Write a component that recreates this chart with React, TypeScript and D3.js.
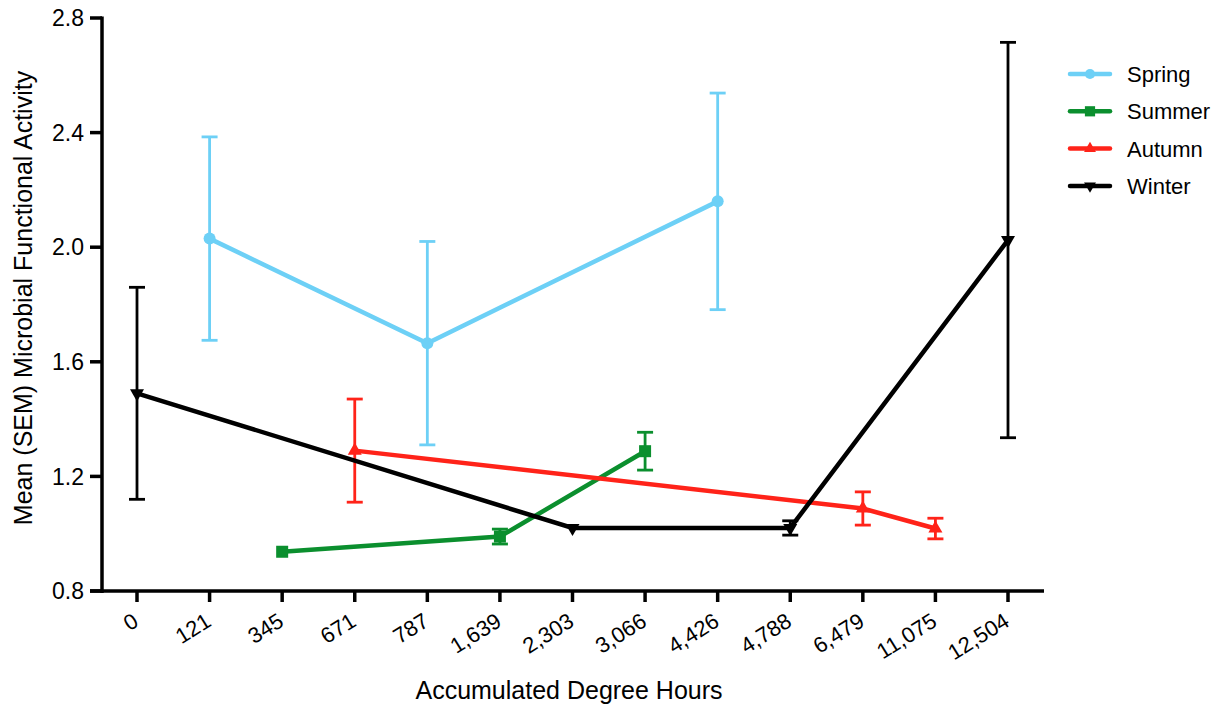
import React from "react";
import * as d3 from "d3";

const categories = ["0", "121", "345", "671", "787", "1,639", "2,303", "3,066", "4,426", "4,788", "6,479", "11,075", "12,504"];
const yTicks = [0.8, 1.2, 1.6, 2.0, 2.4, 2.8];

const springX = ["121", "787", "4,426"];
const springMean = [2.03, 1.665, 2.16];
const springSem = [0.355, 0.355, 0.378];

const summerX = ["345", "1,639", "3,066"];
const summerMean = [0.937, 0.99, 1.288];
const summerSem = [0.0, 0.026, 0.066];

const autumnX = ["671", "6,479", "11,075"];
const autumnMean = [1.29, 1.088, 1.018];
const autumnSem = [0.18, 0.058, 0.036];

const winterX = ["0", "2,303", "4,788", "12,504"];
const winterMean = [1.49, 1.02, 1.02, 2.025];
const winterSem = [0.37, 0.0, 0.025, 0.69];

type Series = { name: string; color: string; shape: string; xs: string[]; mean: number[]; sem: number[] };
const series: Series[] = [
  { name: "Spring", color: "#6dd0f6", shape: "circle", xs: springX, mean: springMean, sem: springSem },
  { name: "Summer", color: "#0b8f2e", shape: "square", xs: summerX, mean: summerMean, sem: summerSem },
  { name: "Autumn", color: "#ff2319", shape: "triangle", xs: autumnX, mean: autumnMean, sem: autumnSem },
  { name: "Winter", color: "#000000", shape: "triangleDown", xs: winterX, mean: winterMean, sem: winterSem },
];

const font = "Liberation Sans, Arial, sans-serif";

function Marker({ shape, x, y, color, s = 1 }: { shape: string; x: number; y: number; color: string; s?: number }) {
  if (shape === "circle") return <circle cx={x} cy={y} r={6 * s} fill={color} />;
  if (shape === "square") return <rect x={x - 6 * s} y={y - 6 * s} width={12 * s} height={12 * s} fill={color} />;
  const sym = d3.symbol().type(d3.symbolTriangle).size(85 * s * s)();
  const rot = shape === "triangleDown" ? 180 : 0;
  return <path d={sym || ""} transform={`translate(${x},${y}) rotate(${rot})`} fill={color} />;
}

export default function App() {
  const W = 1228, H = 705;
  const axisX = 102;
  const x = d3.scalePoint<string>().domain(categories).range([137, 1008]);
  const y = d3.scaleLinear().domain([0.8, 2.8]).range([591, 18]);
  const line = d3.line<[number, number]>().x(d => d[0]).y(d => d[1]);

  return (
    <svg width={W} height={H} style={{ position: "absolute", left: 0, top: 0, background: "#fff" }} fontFamily={font}>
      {/* y axis */}
      <line x1={axisX} x2={axisX} y1={16.5} y2={593} stroke="#000" strokeWidth={3.5} />
      {yTicks.map(t => (
        <g key={t}>
          <line x1={90} x2={axisX} y1={y(t)} y2={y(t)} stroke="#000" strokeWidth={3.5} />
          <text x={84} y={y(t)} dy="0.36em" textAnchor="end" fontSize={23}>{t.toFixed(1)}</text>
        </g>
      ))}
      {/* x axis */}
      <line x1={90} x2={1044} y1={591} y2={591} stroke="#000" strokeWidth={3.5} />
      {categories.map(c => (
        <g key={c}>
          <line x1={x(c)} x2={x(c)} y1={591} y2={602} stroke="#000" strokeWidth={3.5} />
          <text transform={`translate(${(x(c) as number) + 3},${625}) rotate(-32)`} textAnchor="end" fontSize={22}>{c}</text>
        </g>
      ))}
      <text x={569} y={699} textAnchor="middle" fontSize={25}>Accumulated Degree Hours</text>
      <text transform={`translate(32,${298}) rotate(-90)`} textAnchor="middle" fontSize={25}>Mean (SEM) Microbial Functional Activity</text>

      {series.map(s => {
        const pts: [number, number][] = s.xs.map((c, i) => [x(c) as number, y(s.mean[i])]);
        return (
          <g key={s.name}>
            <path d={line(pts) || ""} fill="none" stroke={s.color} strokeWidth={4.5} />
            {s.xs.map((c, i) => {
              const cx = x(c) as number;
              const m = s.mean[i], e = s.sem[i];
              if (e <= 0) return null;
              return (
                <g key={c} stroke={s.color} strokeWidth={2.8}>
                  <line x1={cx} x2={cx} y1={y(m + e)} y2={y(m - e)} />
                  <line x1={cx - 8} x2={cx + 8} y1={y(m + e)} y2={y(m + e)} />
                  <line x1={cx - 8} x2={cx + 8} y1={y(m - e)} y2={y(m - e)} />
                </g>
              );
            })}
            {s.xs.map((c, i) => (
              <Marker key={c} shape={s.shape} x={x(c) as number} y={y(s.mean[i])} color={s.color} />
            ))}
          </g>
        );
      })}

      {/* legend */}
      {series.map((s, i) => {
        const ly = 74 + i * 37.3;
        return (
          <g key={s.name}>
            <line x1={1070} x2={1110} y1={ly} y2={ly} stroke={s.color} strokeWidth={4.5} strokeLinecap="round" />
            <Marker shape={s.shape} x={1090} y={ly} color={s.color} s={0.85} />
            <text x={1127} y={ly} dy="0.36em" fontSize={22}>{s.name}</text>
          </g>
        );
      })}
    </svg>
  );
}
